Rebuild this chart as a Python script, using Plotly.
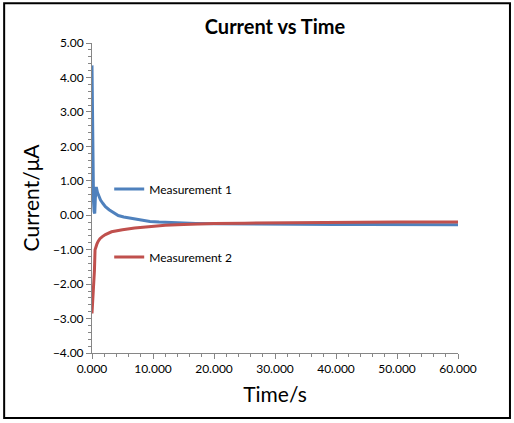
import plotly.graph_objects as go

# Measurement 1 (blue)
t1 = [0, 0.05, 0.1, 0.15, 0.25, 0.35, 0.45, 0.55, 0.7, 0.9, 1.1, 1.4, 1.8, 2.2, 2.8,
      3.5, 4.3, 5.2, 6.5, 8, 9.5, 11, 13, 15, 17, 20, 25, 30, 35, 40, 45, 50, 55, 60]
i1 = [4.35, 3.4, 2.2, 1.1, 0.4, 0.1, 0.05, 0.5, 0.82, 0.66, 0.55, 0.44, 0.34, 0.25, 0.16,
      0.08, -0.01, -0.05, -0.09, -0.14, -0.18, -0.2, -0.22, -0.23, -0.24, -0.25, -0.26, -0.26,
      -0.26, -0.27, -0.27, -0.27, -0.28, -0.28]

# Measurement 2 (red)
t2 = [0, 0.1, 0.2, 0.3, 0.4, 0.5, 0.6, 0.8, 1.0, 1.3, 1.7, 2.2, 3.2, 4, 5, 7, 9.5,
      12, 15, 18, 20, 25, 30, 35, 40, 45, 50, 55, 60]
i2 = [-2.85, -2.55, -2.2, -2.1, -1.6, -1.0, -0.92, -0.84, -0.76, -0.68, -0.62, -0.56, -0.48,
      -0.45, -0.42, -0.37, -0.33, -0.29, -0.27, -0.25, -0.24, -0.23, -0.22, -0.22, -0.21,
      -0.21, -0.2, -0.2, -0.2]

fig = go.Figure()
fig.add_trace(go.Scatter(x=t1, y=i1, mode="lines", name="Measurement 1",
                         line=dict(color="#4F81BD", width=3), legend="legend"))
fig.add_trace(go.Scatter(x=t2, y=i2, mode="lines", name="Measurement 2",
                         line=dict(color="#C0504D", width=3), legend="legend2"))

leg = dict(bgcolor="rgba(0,0,0,0)", font=dict(family="Lato, Open Sans, sans-serif", size=12, color="#000"),
           xanchor="left", yanchor="middle", itemwidth=30)

fig.update_layout(
    width=514, height=423,
    margin=dict(l=92, r=56, t=43, b=70),
    paper_bgcolor="white", plot_bgcolor="white",
    showlegend=True,
    font=dict(family="Lato, Open Sans, sans-serif", color="#000"),
    title=dict(text="<b>Current vs Time</b>", x=0.535, xanchor="center", y=0.952,
               font=dict(size=20, color="#000")),
    legend=dict(leg, x=0.047, y=0.529),
    legend2=dict(leg, x=0.047, y=0.31),
    shapes=[dict(type="rect", xref="paper", yref="paper",
                 x0=-0.24, x1=1.142, y0=-0.21, y1=1.128,
                 line=dict(color="#000", width=2))],
)

fig.update_xaxes(range=[0, 60], dtick=10, tickformat=".3f", showgrid=False, zeroline=False,
                 showline=True, linecolor="#868686", linewidth=1,
                 ticks="outside", ticklen=5, tickcolor="#868686",
                 minor=dict(dtick=2, ticks="outside", ticklen=3, tickcolor="#868686"),
                 tickfont=dict(size=12),
                 title=dict(text="Time/s", font=dict(size=21), standoff=11))
fig.update_yaxes(range=[-4, 5], dtick=1, tickformat=".2f", showgrid=False, zeroline=False,
                 showline=True, linecolor="#868686", linewidth=1,
                 ticks="outside", ticklen=5, tickcolor="#868686",
                 minor=dict(dtick=0.2, ticks="outside", ticklen=3, tickcolor="#868686"),
                 tickfont=dict(size=12),
                 title=dict(text="Current/μA", font=dict(size=21), standoff=7))

fig.write_html("out.html", config={"displayModeBar": False},
               post_script="document.body.style.margin='0';")
